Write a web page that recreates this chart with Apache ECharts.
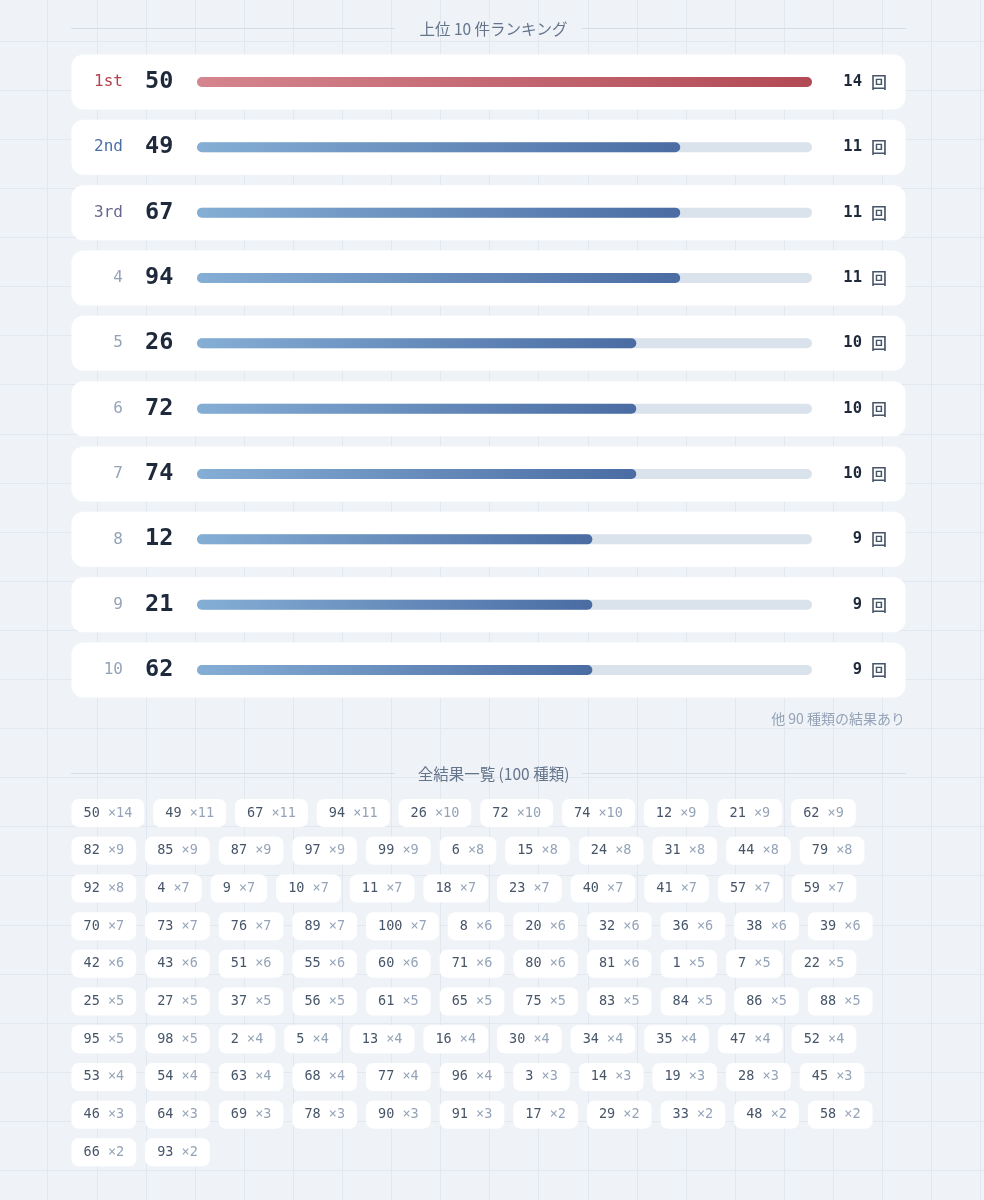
<!DOCTYPE html>
<html><head><meta charset="utf-8">
<script src="https://cdn.jsdelivr.net/npm/echarts@6/dist/echarts.min.js"></script>
<style>html,body{margin:0;padding:0;background:#eff3f8;} #c{width:984px;height:1200px;}</style>
</head><body><div id="c"></div>
<script>
// ---- data ----
const rankLabels = ['1st', '2nd', '3rd', '4', '5', '6', '7', '8', '9', '10'];
const topNumbers = ['50', '49', '67', '94', '26', '72', '74', '12', '21', '62'];
const topCounts = [14, 11, 11, 11, 10, 10, 10, 9, 9, 9];
const allNumbers = [
  50, 49, 67, 94, 26, 72, 74, 12, 21, 62,
  82, 85, 87, 97, 99, 6, 15, 24, 31, 44, 79,
  92, 4, 9, 10, 11, 18, 23, 40, 41, 57, 59,
  70, 73, 76, 89, 100, 8, 20, 32, 36, 38, 39,
  42, 43, 51, 55, 60, 71, 80, 81, 1, 7, 22,
  25, 27, 37, 56, 61, 65, 75, 83, 84, 86, 88,
  95, 98, 2, 5, 13, 16, 30, 34, 35, 47, 52,
  53, 54, 63, 68, 77, 96, 3, 14, 19, 28, 45,
  46, 64, 69, 78, 90, 91, 17, 29, 33, 48, 58,
  66, 93
];
const allCounts = [
  14, 11, 11, 11, 10, 10, 10, 9, 9, 9,
  9, 9, 9, 9, 9, 8, 8, 8, 8, 8, 8,
  8, 7, 7, 7, 7, 7, 7, 7, 7, 7, 7,
  7, 7, 7, 7, 7, 6, 6, 6, 6, 6, 6,
  6, 6, 6, 6, 6, 6, 6, 6, 5, 5, 5,
  5, 5, 5, 5, 5, 5, 5, 5, 5, 5, 5,
  5, 5, 4, 4, 4, 4, 4, 4, 4, 4, 4,
  4, 4, 4, 4, 4, 4, 3, 3, 3, 3, 3,
  3, 3, 3, 3, 3, 3, 2, 2, 2, 2, 2,
  2, 2
];
const countUnit = '回';
const titleTop = '上位 ' + topNumbers.length + ' 件ランキング';
const titleAll = '全結果一覧 (' + allNumbers.length + ' 種類)';
const footnote = '他 ' + (allNumbers.length - topNumbers.length) + ' 種類の結果あり';

// ---- styles ----
const MONO = "'DejaVu Sans Mono', monospace";
const CJK = "'Noto Sans CJK JP', 'Noto Sans', sans-serif";
const rankColors = ['#b3434f', '#4a6fa5', '#67678f'];
const rankColorRest = '#94a3b8';
const CHIP_FONT = 13.5, CHIP_PAD = 12, CHIP_GAP = 9, CHIP_AREA_W = 835;

// flow layout for chips (measured text widths)
const ctx = document.createElement('canvas').getContext('2d');
ctx.font = CHIP_FONT + 'px ' + MONO;
const chipData = [];
let cx = 0, row = 0;
allNumbers.forEach((n, i) => {
  const w = ctx.measureText(n + ' ×' + allCounts[i]).width + CHIP_PAD * 2;
  if (cx > 0 && cx + w > CHIP_AREA_W) { cx = 0; row++; }
  chipData.push([cx, row, w, i]);
  cx += w + CHIP_GAP;
});
const chipRows = [];
for (let r = 0; r <= row; r++) chipRows.push(r);

function gradient(a, b) {
  return new echarts.graphic.LinearGradient(0, 0, 1, 0, [{ offset: 0, color: a }, { offset: 1, color: b }]);
}

// background grid (decoration)
const bg = [];
for (let k = -1; k < 21; k++) {
  const x = Math.round(47.4 + 49.1 * k) + 0.5;
  bg.push({ type: 'line', silent: true, z: -10, shape: { x1: x, y1: 0, x2: x, y2: 1200 }, style: { stroke: '#e2e8f0', lineWidth: 1 } });
}
for (let k = -1; k < 25; k++) {
  const y = Math.round(40.7 + 49.1 * k) + 0.5;
  bg.push({ type: 'line', silent: true, z: -10, shape: { x1: 0, y1: y, x2: 984, y2: y }, style: { stroke: '#e2e8f0', lineWidth: 1 } });
}
// section rules
[[28.5, 71, 395], [28.5, 582, 906], [773.5, 71, 395], [773.5, 582, 906]].forEach(s => {
  bg.push({ type: 'line', silent: true, z: -5, shape: { x1: s[1], y1: s[0], x2: s[2], y2: s[0] }, style: { stroke: '#d5dde7', lineWidth: 1 } });
});
bg.push({
  type: 'text', z: 5, silent: true,
  style: { text: footnote, x: 905, y: 719, fill: '#94a3b8', font: '14px ' + CJK, textAlign: 'right', textVerticalAlign: 'middle', align: 'right', verticalAlign: 'middle' }
});

const chart = echarts.init(document.getElementById('c'), null, { renderer: 'canvas' });
chart.setOption({
  backgroundColor: '#eff3f8',
  animation: false,
  title: [
    { text: titleTop, left: 488.5, textAlign: 'center', top: 16, textStyle: { fontFamily: CJK, fontSize: 15.5, fontWeight: 'normal', color: '#64748b' } },
    { text: titleAll, left: 488.5, textAlign: 'center', top: 761, textStyle: { fontFamily: CJK, fontSize: 15.5, fontWeight: 'normal', color: '#64748b' } }
  ],
  graphic: bg,
  grid: [
    { left: 197, right: 172, top: 49.3, height: 653.4 },
    { left: 71.5, width: CHIP_AREA_W, top: 794.2, height: 37.7 * chipRows.length }
  ],
  xAxis: [
    { gridIndex: 0, type: 'value', min: 0, max: Math.max(...topCounts), show: false },
    { gridIndex: 1, type: 'value', min: 0, max: CHIP_AREA_W, show: false }
  ],
  yAxis: [
    { gridIndex: 0, type: 'category', data: rankLabels, inverse: true, show: false },
    { gridIndex: 1, type: 'category', data: chipRows, inverse: true, show: false }
  ],
  series: [
    {
      type: 'custom', xAxisIndex: 0, yAxisIndex: 0, z: 1,
      data: rankLabels.map((r, i) => [0, i]),
      renderItem: function (params, api) {
        const cs = params.coordSys;
        const i = api.value(1);
        const p = api.coord([0, i]);
        const cy = p[1];
        return {
          type: 'group',
          children: [
            { type: 'rect', shape: { x: cs.x - 125.5, y: cy - 27.5, width: 834, height: 55, r: 12 }, style: { fill: '#ffffff' } },
            { type: 'text', style: { text: rankLabels[i], x: cs.x - 74, y: cy, align: 'right', verticalAlign: 'middle', font: '16px ' + MONO, fill: i < 3 ? rankColors[i] : rankColorRest } },
            { type: 'text', style: { text: topNumbers[i], x: cs.x - 52, y: cy, align: 'left', verticalAlign: 'middle', font: 'bold 23.5px ' + MONO, fill: '#1e293b' } },
            { type: 'text', style: {
                text: '{n|' + topCounts[i] + '} {u|' + countUnit + '}', x: cs.x + cs.width + 75, y: cy, align: 'right', verticalAlign: 'middle',
                font: '15px ' + MONO,
                rich: { n: { fontFamily: MONO, fontSize: 15.5, fontWeight: 'bold', fill: '#1e293b', color: '#1e293b' }, u: { fontFamily: CJK, fontSize: 16, fontWeight: 500, fill: '#475569', color: '#475569' } }
              } }
          ]
        };
      }
    },
    {
      type: 'bar', xAxisIndex: 0, yAxisIndex: 0, z: 3,
      barWidth: 10,
      showBackground: true,
      backgroundStyle: { color: '#dae2ec', borderRadius: 5 },
      data: topCounts.map((v, i) => ({
        value: v,
        itemStyle: { borderRadius: 5, color: i === 0 ? gradient('#d5858f', '#b24a55') : gradient('#85aed5', '#4a6ca3') }
      }))
    },
    {
      type: 'custom', xAxisIndex: 1, yAxisIndex: 1, z: 3,
      data: chipData,
      renderItem: function (params, api) {
        const x0 = api.value(0), r = api.value(1), w = api.value(2), i = api.value(3);
        const p = api.coord([x0, r]);
        const p2 = api.coord([x0 + w, r]);
        return {
          type: 'group',
          children: [
            { type: 'rect', shape: { x: p[0], y: p[1] - 14, width: p2[0] - p[0], height: 28, r: 7 }, style: { fill: '#ffffff' } },
            { type: 'text', style: {
                text: '{n|' + allNumbers[i] + '} {c|×' + allCounts[i] + '}', x: p[0] + CHIP_PAD, y: p[1], align: 'left', verticalAlign: 'middle',
                font: CHIP_FONT + 'px ' + MONO,
                rich: { n: { fontFamily: MONO, fontSize: CHIP_FONT, fill: '#475569', color: '#475569' }, c: { fontFamily: MONO, fontSize: CHIP_FONT, fill: '#94a3b8', color: '#94a3b8' } }
              } }
          ]
        };
      }
    }
  ]
});
</script>
</body></html>
